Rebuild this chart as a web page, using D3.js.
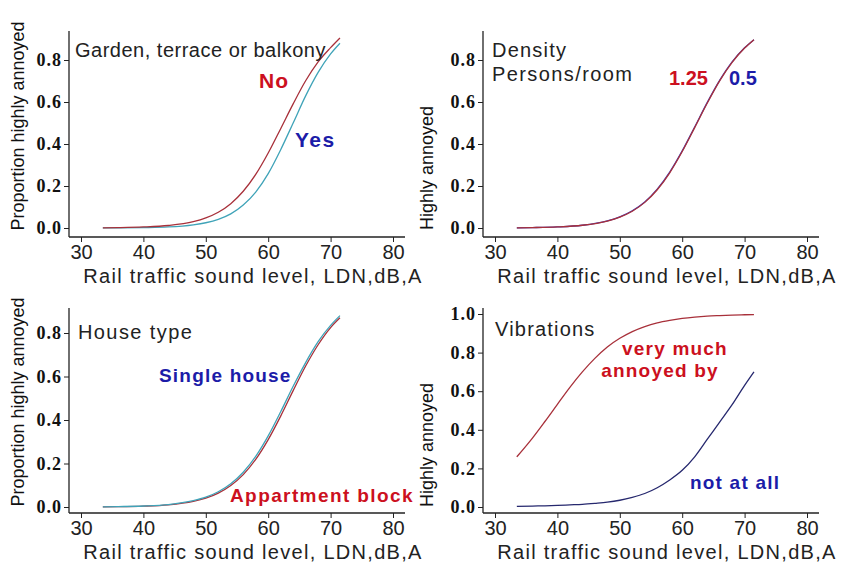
<!DOCTYPE html>
<html>
<head>
<meta charset="utf-8">
<script src="https://cdn.jsdelivr.net/npm/d3@7"></script>
<style>
  body { margin: 0; background: #fff; }
  .ytick text { font-family: "Liberation Serif", serif; font-weight: bold; font-size: 18px; letter-spacing: 1px; }
  .xtick text { font-family: "Liberation Sans", Arial, sans-serif; font-size: 20px; }
</style>
</head>
<body>
<div id="chart"></div>
<script>
// sound level (dB) where the curves were read
const levels = [33.5, 36, 40, 44, 48, 50, 52, 54, 56, 58, 60, 62, 64, 66, 68, 70, 71.5]

// garden, terrace or balkony
const gardenNo  = [0.001, 0.002, 0.005, 0.012, 0.030, 0.048, 0.075, 0.116, 0.175, 0.255, 0.357, 0.473, 0.591, 0.701, 0.791, 0.859, 0.905]
const gardenYes = [0.0003, 0.0006, 0.002, 0.005, 0.015, 0.025, 0.041, 0.067, 0.109, 0.171, 0.259, 0.373, 0.500, 0.629, 0.741, 0.829, 0.880]

// density, persons/room
const density125 = [0.001, 0.002, 0.005, 0.013, 0.033, 0.052, 0.080, 0.122, 0.182, 0.263, 0.364, 0.478, 0.594, 0.701, 0.789, 0.857, 0.897]
const density05  = [0.001, 0.002, 0.005, 0.013, 0.034, 0.053, 0.082, 0.124, 0.185, 0.266, 0.367, 0.481, 0.597, 0.703, 0.791, 0.858, 0.897]

// house type
const singleHouse = [0.001, 0.002, 0.0045, 0.011, 0.029, 0.045, 0.070, 0.107, 0.160, 0.233, 0.327, 0.438, 0.555, 0.664, 0.760, 0.835, 0.880]
const apartment   = [0.001, 0.0016, 0.004, 0.010, 0.026, 0.041, 0.064, 0.099, 0.149, 0.219, 0.310, 0.418, 0.535, 0.648, 0.746, 0.825, 0.870]

// vibrations
const vibLevels = [33.5, 36, 38, 40, 42, 44, 46, 48, 50, 52, 54, 56, 58, 60, 62, 64, 66, 68, 70, 71.5]
const vibMuch = [0.26, 0.357, 0.443, 0.532, 0.62, 0.70, 0.77, 0.829, 0.874, 0.909, 0.935, 0.954, 0.967, 0.977, 0.984, 0.989, 0.992, 0.9945, 0.996, 0.997]
const vibNone = [0.003, 0.005, 0.006, 0.008, 0.011, 0.014, 0.019, 0.025, 0.035, 0.05, 0.07, 0.10, 0.14, 0.19, 0.26, 0.35, 0.44, 0.53, 0.63, 0.70]

const xTicks = [30, 40, 50, 60, 70, 80]
const yTicks08 = [0, 0.2, 0.4, 0.6, 0.8]
const yTicks10 = [0, 0.2, 0.4, 0.6, 0.8, 1.0]

const xTitle = "Rail traffic sound level, LDN,dB,A"

const svg = d3.select("#chart").append("svg")
    .attr("width", 842)
    .attr("height", 562)

const redLine = "#a8303a", tealLine = "#3fa3b8", blueLine = "#3a3ab8", navyLine = "#26286e"
const redText = "#cc1020", blueText = "#1c1ca8"

function drawPanel(p) {
    const g = svg.append("g").attr("transform", "translate(" + p.left + "," + p.top + ")")

    const x = d3.scaleLinear().domain([30, 80]).range([12, 324])
    const y = d3.scaleLinear().domain(p.yDomain).range(p.yRange)

    // y axis
    const yAxis = d3.axisLeft(y)
        .tickValues(p.yTicks)
        .tickFormat(d3.format(".1f"))
        .tickSize(5)
        .tickPadding(2)
        .tickSizeOuter(0)
    const ya = g.append("g").attr("class", "ytick").call(yAxis)
    ya.select(".domain").attr("d", "M0," + p.axisTop + "V" + p.axisY).attr("stroke", "#222").attr("stroke-width", 1.3)
    ya.selectAll(".tick line").attr("stroke", "#222")
    ya.selectAll(".tick text").attr("fill", "#111")

    // x axis
    const xAxis = d3.axisBottom(x)
        .tickValues(xTicks)
        .tickSize(5)
        .tickPadding(3)
        .tickSizeOuter(0)
    const xa = g.append("g").attr("class", "xtick")
        .attr("transform", "translate(0," + p.axisY + ")")
        .call(xAxis)
    xa.select(".domain").attr("d", "M0,0H336").attr("stroke", "#222").attr("stroke-width", 1.3)
    xa.selectAll(".tick line").attr("stroke", "#222")
    xa.selectAll(".tick text").attr("fill", "#222")

    // axis titles
    g.append("text")
        .attr("transform", "translate(" + p.yTitleX + "," + p.yTitleY + ") rotate(-90)")
        .attr("text-anchor", "middle")
        .attr("dy", "0.35em")
        .style("font-family", "Liberation Sans, Arial, sans-serif")
        .style("font-size", "18px")
        .style("font-weight", "500")
        .attr("fill", "#111")
        .text(p.yTitle)

    g.append("text")
        .attr("x", 12 + 172)
        .attr("y", p.axisY + 46)
        .attr("text-anchor", "middle")
        .style("font-family", "Liberation Sans, Arial, sans-serif")
        .style("font-size", "20px")
        .style("letter-spacing", "1.3px")
        .attr("fill", "#222")
        .text(xTitle)

    // curves
    const line = d3.line()
        .x(d => x(d[0]))
        .y(d => y(d[1]))
        .curve(d3.curveMonotoneX)

    p.series.forEach(s => {
        g.append("path")
            .datum(d3.zip(s.xs, s.values))
            .attr("fill", "none")
            .attr("stroke", s.color)
            .attr("stroke-width", 1.3)
            .attr("d", line)
    })

    // labels inside the panel
    p.labels.forEach(l => {
        g.append("text")
            .attr("x", l.x)
            .attr("y", l.y)
            .attr("dy", "0.35em")
            .attr("text-anchor", l.anchor || "start")
            .style("font-family", "Liberation Sans, Arial, sans-serif")
            .style("font-size", l.size + "px")
            .style("font-weight", l.bold ? "bold" : "normal")
            .style("letter-spacing", l.ls + "px")
            .attr("fill", l.color)
            .text(l.text)
    })
}

drawPanel({
    left: 69, top: 0, axisTop: 31, axisY: 237,
    yDomain: [0, 0.8], yRange: [228, 60], yTicks: yTicks08,
    yTitle: "Proportion highly annoyed", yTitleX: -51, yTitleY: 126,
    series: [
        { xs: levels, values: gardenYes, color: tealLine },
        { xs: levels, values: gardenNo, color: redLine }
    ],
    labels: [
        { text: "Garden, terrace or balkony", x: 6, y: 50, size: 20, ls: 0.5, color: "#222" },
        { text: "No", x: 190, y: 81, size: 21, ls: 1, bold: true, color: redText },
        { text: "Yes", x: 226, y: 140, size: 21, ls: 1.5, bold: true, color: blueText }
    ]
})

drawPanel({
    left: 483, top: 0, axisTop: 31, axisY: 237,
    yDomain: [0, 0.8], yRange: [228, 60], yTicks: yTicks08,
    yTitle: "Highly annoyed", yTitleX: -56, yTitleY: 168,
    series: [
        { xs: levels, values: density05, color: blueLine },
        { xs: levels, values: density125, color: redLine }
    ],
    labels: [
        { text: "Density", x: 9, y: 50, size: 20, ls: 1.2, color: "#222" },
        { text: "Persons/room", x: 9, y: 74, size: 20, ls: 1.4, color: "#222" },
        { text: "1.25", x: 186, y: 78, size: 20, ls: 0, bold: true, color: redText },
        { text: "0.5", x: 246, y: 78, size: 20, ls: 0, bold: true, color: blueText }
    ]
})

drawPanel({
    left: 69, top: 280, axisTop: 28, axisY: 233,
    yDomain: [0, 0.8], yRange: [227, 53], yTicks: yTicks08,
    yTitle: "Proportion highly annoyed", yTitleX: -51, yTitleY: 122,
    series: [
        { xs: levels, values: apartment, color: redLine },
        { xs: levels, values: singleHouse, color: tealLine }
    ],
    labels: [
        { text: "House type", x: 9, y: 52, size: 20, ls: 1.4, color: "#222" },
        { text: "Single house", x: 90, y: 95, size: 19, ls: 1.2, bold: true, color: blueText },
        { text: "Appartment block", x: 161, y: 215, size: 19, ls: 1.4, bold: true, color: redText }
    ]
})

drawPanel({
    left: 483, top: 280, axisTop: 28, axisY: 233,
    yDomain: [0, 1], yRange: [227, 34], yTicks: yTicks10,
    yTitle: "Highly annoyed", yTitleX: -56, yTitleY: 165,
    series: [
        { xs: vibLevels, values: vibMuch, color: redLine },
        { xs: vibLevels, values: vibNone, color: navyLine }
    ],
    labels: [
        { text: "Vibrations", x: 12, y: 49, size: 20, ls: 1.2, color: "#222" },
        { text: "very much", x: 192, y: 68, size: 19, ls: 1.2, bold: true, color: redText, anchor: "middle" },
        { text: "annoyed by", x: 177, y: 90, size: 19, ls: 1.2, bold: true, color: redText, anchor: "middle" },
        { text: "not at all", x: 207, y: 202, size: 19, ls: 1.2, bold: true, color: blueText }
    ]
})
</script>
</body>
</html>
